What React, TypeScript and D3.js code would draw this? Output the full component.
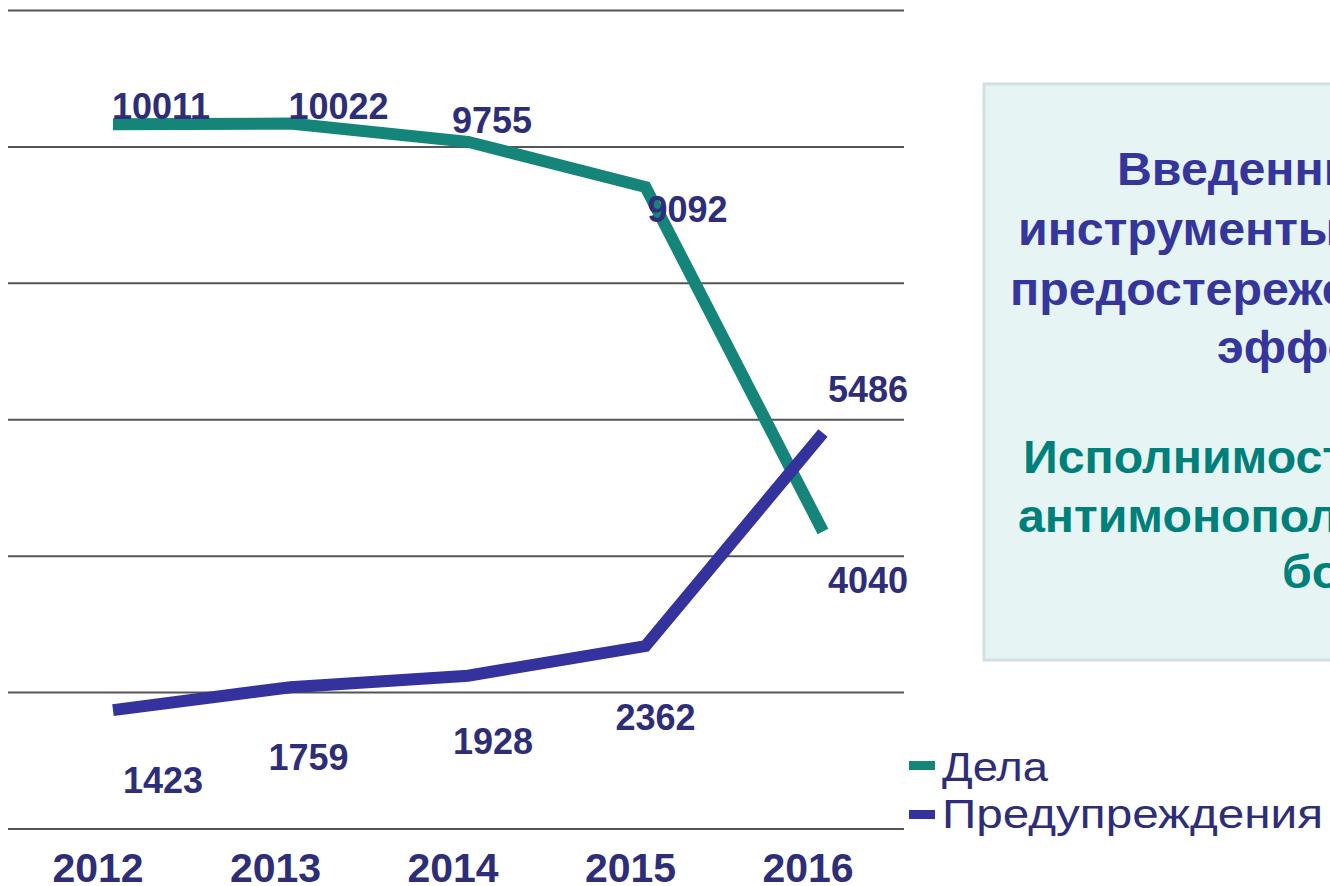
import React from 'react';
import * as d3 from 'd3';

const years = ['2012', '2013', '2014', '2015', '2016'];
const casesValues = [10011, 10022, 9755, 9092, 4040];
const warningValues = [1423, 1759, 1928, 2362, 5486];
const gridValues = [-320, 1680, 3680, 5680, 7680, 9680, 11680];
const seriesNames = ['Дела', 'Предупреждения'];

// label nudges (px) relative to each point, as in the original slide
const casesLabelOffsets = [[-1, -5], [-2, -5], [-16, -9], [2, 35], [5, 61]];
const warningLabelOffsets = [[10, 83], [-22, 83], [-15, 78], [-30, 84], [5, -31]];

const noteBlue = ['Введенные', 'инструменты', 'предостережения', 'эффективность'];
const noteTeal = ['Исполнимость', 'антимонопольного', 'более'];

const TEAL = '#158579';
const PURPLE = '#34329c';
const NAVY = '#2e2d78';
const FONT = '"Liberation Sans", Arial, sans-serif';

export default function App() {
  const width = 1330, height = 886;

  const x = d3.scalePoint<string>().domain(years).range([113, 823]);
  const y = d3.scaleLinear().domain([-320, 11680]).range([829, 10.5]);

  const line = d3.line<number>()
    .x((_, i) => x(years[i]) as number)
    .y(d => y(d));

  const labels = (values: number[], offs: number[][]) =>
    values.map((v, i) => (
      <text key={i} x={(x(years[i]) as number) + offs[i][0]} y={y(v) + offs[i][1]}
        fontSize={36} fontWeight="bold" fill={NAVY} fontFamily={FONT}>{v}</text>
    ));

  const blueX = [1117, 1018, 1010, 1217];
  const blueY = [185, 245, 305, 363];
  const tealX = [1023, 1018, 1282];
  const tealY = [473, 532, 588];

  const noteLine = (t: string, nx: number, ny: number, fill: string) => (
    <g key={t} transform={`translate(${nx},${ny}) scale(1.05,1)`}>
      <text x={0} y={0} fontSize={46} fontWeight="bold" fill={fill} fontFamily={FONT}>{t}</text>
    </g>
  );

  return (
    <svg width={width} height={height} style={{ position: 'fixed', left: 0, top: 0, background: '#fff' }}>
      {/* note box */}
      <rect x={984} y={84} width={420} height={576} fill="#e6f4f4" stroke="#d2e0e1" strokeWidth={3} />
      {noteBlue.map((t, i) => noteLine(t, blueX[i], blueY[i], '#35359c'))}
      {noteTeal.map((t, i) => noteLine(t, tealX[i], tealY[i], '#00807a'))}

      {/* grid */}
      {gridValues.map(g => (
        <line key={g} x1={8} x2={904} y1={y(g)} y2={y(g)} stroke="#555" strokeWidth={2} />
      ))}

      {/* series */}
      <path d={line(casesValues) || ''} fill="none" stroke={TEAL} strokeWidth={12} />
      <path d={line(warningValues) || ''} fill="none" stroke={PURPLE} strokeWidth={12} />

      {labels(casesValues, casesLabelOffsets)}
      {labels(warningValues, warningLabelOffsets)}

      {/* x axis labels */}
      {years.map(yr => (
        <text key={yr} x={(x(yr) as number) - 15} y={882} textAnchor="middle"
          fontSize={41} fontWeight="bold" fill={NAVY} fontFamily={FONT}>{yr}</text>
      ))}

      {/* legend */}
      <rect x={909} y={761} width={26} height={9} fill={TEAL} />
      <text x={942} y={781} fontSize={40} fill={NAVY} fontFamily={FONT}
        textLength={106} lengthAdjust="spacingAndGlyphs">{seriesNames[0]}</text>
      <rect x={909} y={810} width={26} height={9} fill={PURPLE} />
      <text x={942} y={828} fontSize={40} fill={NAVY} fontFamily={FONT}
        textLength={381} lengthAdjust="spacingAndGlyphs">{seriesNames[1]}</text>
    </svg>
  );
}
